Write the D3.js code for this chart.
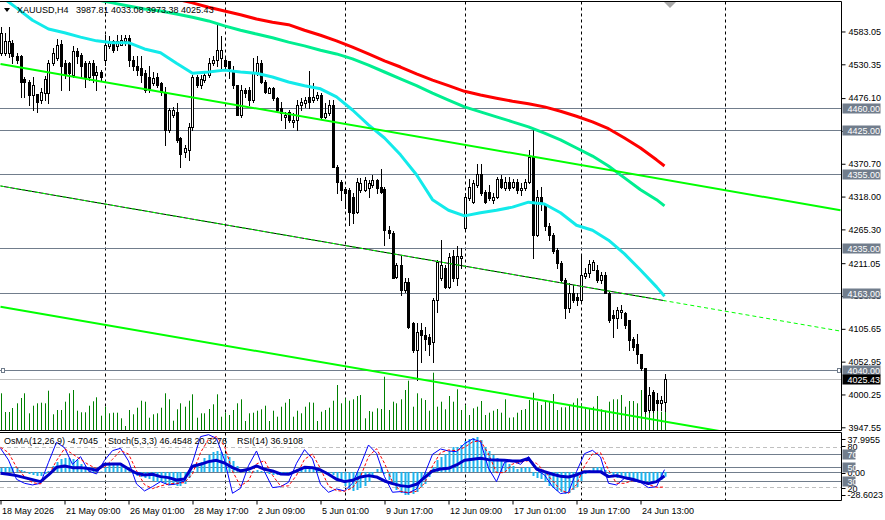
<!DOCTYPE html>
<html>
<head>
<meta charset="utf-8">
<script src="https://cdn.jsdelivr.net/npm/d3@7"></script>
<style>
  body { margin: 0; background: #ffffff; }
  svg text { font-family: "Liberation Sans", Arial, sans-serif; font-size: 9px; fill: #000000; }
</style>
</head>
<body>
<div id="chart"></div>
<script>
// Chart values
//
const symbolTitle = 'XAUUSD,H4';
const lastQuote   = '3987.81 4033.08 3973.38 4025.43';

// Candles [open, high, low, close], one per H4 bar
//
const candles = [
  [4548,4590,4545,4581],[4548,4581,4545,4568],[4548,4590,4542,4568],[4565,4569,4533,4543],[4544,4549,4532,4537],
  [4543,4545,4478,4502],[4507,4510,4478,4502],[4502,4505,4465,4481],[4481,4510,4457,4497],[4483,4483,4454,4470],
  [4473,4492,4468,4486],[4484,4512,4473,4507],[4484,4537,4468,4533],[4533,4557,4529,4549],[4540,4571,4537,4561],
  [4563,4569,4489,4528],[4532,4537,4508,4513],[4532,4534,4489,4516],[4513,4560,4510,4551],[4551,4557,4532,4543],
  [4545,4549,4508,4527],[4532,4535,4494,4510],[4510,4536,4505,4532],[4533,4537,4502,4513],[4513,4527,4489,4518],
  [4518,4521,4505,4510],[4537,4577,4529,4561],[4559,4576,4557,4567],[4567,4569,4550,4553],[4559,4577,4553,4567],
  [4561,4577,4561,4569],[4567,4577,4561,4572],[4572,4577,4527,4537],[4537,4543,4521,4527],[4527,4543,4513,4521],
  [4524,4543,4502,4513],[4516,4521,4486,4489],[4510,4527,4486,4492],[4500,4518,4497,4508],[4510,4516,4494,4497],
  [4500,4502,4481,4486],[4486,4494,4401,4425],[4425,4460,4422,4457],[4449,4462,4446,4457],[4454,4468,4406,4409],
  [4412,4414,4366,4387],[4390,4401,4382,4396],[4393,4436,4377,4430],[4430,4513,4425,4510],[4510,4513,4494,4497],
  [4497,4513,4492,4506],[4505,4519,4502,4513],[4513,4540,4510,4532],[4533,4543,4529,4538],[4537,4596,4527,4554],
  [4540,4575,4524,4554],[4538,4540,4521,4527],[4535,4535,4508,4524],[4521,4527,4492,4497],[4497,4497,4449,4449],
  [4449,4497,4446,4489],[4489,4492,4478,4485],[4489,4494,4465,4473],[4473,4540,4470,4516],[4516,4543,4513,4532],
  [4532,4537,4500,4502],[4502,4505,4484,4486],[4485,4494,4484,4492],[4492,4494,4473,4476],[4476,4478,4454,4457],
  [4460,4470,4441,4452],[4446,4454,4428,4449],[4454,4457,4438,4441],[4438,4452,4430,4441],[4441,4473,4425,4465],
  [4465,4476,4457,4470],[4468,4478,4462,4473],[4478,4519,4460,4470],[4473,4500,4470,4478],[4476,4486,4473,4481],
  [4481,4484,4444,4446],[4446,4468,4444,4452],[4452,4473,4449,4465],[4465,4473,4366,4366],[4366,4369,4324,4341],
  [4341,4345,4312,4329],[4330,4334,4300,4324],[4329,4332,4272,4294],[4318,4324,4276,4292],[4294,4348,4292,4342],
  [4329,4348,4326,4340],[4329,4350,4327,4345],[4331,4345,4318,4340],[4337,4353,4334,4345],[4345,4347,4323,4331],
  [4334,4363,4323,4326],[4330,4334,4240,4264],[4265,4270,4251,4259],[4259,4262,4187,4187],[4189,4211,4187,4208],
  [4208,4222,4160,4168],[4168,4187,4165,4181],[4181,4187,4107,4109],[4115,4117,4069,4072],[4072,4115,4024,4101],
  [4104,4115,4053,4096],[4096,4109,4072,4090],[4092,4098,4064,4082],[4085,4155,4053,4152],[4152,4216,4133,4213],
  [4187,4248,4184,4208],[4203,4208,4171,4173],[4173,4227,4171,4221],[4223,4232,4182,4187],[4187,4238,4176,4223],
  [4219,4235,4203,4223],[4268,4323,4264,4318],[4316,4347,4312,4334],[4310,4345,4307,4339],[4337,4371,4334,4355],
  [4355,4371,4321,4323],[4326,4329,4307,4310],[4326,4337,4312,4315],[4312,4323,4307,4318],[4318,4350,4316,4346],
  [4346,4353,4331,4334],[4331,4350,4329,4342],[4342,4350,4329,4331],[4334,4347,4332,4342],[4342,4347,4323,4329],
  [4329,4339,4321,4331],[4331,4347,4329,4342],[4342,4393,4340,4382],[4382,4428,4219,4256],[4256,4329,4254,4318],
  [4318,4334,4296,4307],[4305,4307,4264,4270],[4270,4275,4248,4256],[4256,4259,4227,4230],[4232,4235,4203,4211],
  [4211,4214,4181,4184],[4184,4187,4123,4139],[4139,4179,4133,4163],[4163,4176,4149,4152],[4157,4163,4144,4152],
  [4152,4224,4149,4192],[4190,4203,4187,4195],[4195,4216,4189,4209],[4200,4216,4200,4213],[4200,4208,4181,4184],
  [4184,4197,4179,4192],[4192,4197,4163,4163],[4163,4165,4117,4120],[4128,4136,4093,4123],[4123,4141,4107,4136],
  [4133,4144,4123,4136],[4131,4133,4107,4112],[4120,4120,4072,4088],[4090,4093,4072,4077],[4082,4098,4050,4066],
  [4066,4066,4040,4042],[4042,4042,3971,3973],[3975,4013,3972,3999],[4005,4007,3972,3975],[3991,4002,3975,3986],
  [3986,3997,3975,3991],[3987.81,4033.08,3973.38,4025.43]
];

// Tick volumes, one per bar
//
const volumes = [
  3670,1800,1800,2200,2670,3200,3670,1670,2430,2670,2730,2670,3930,1570,2000,2000,2830,3670,4000,1930,
  1770,1770,2430,2870,3270,1430,2330,1670,1730,1730,1170,400,2000,1570,2230,2930,2830,1230,1570,1670,
  2230,3670,3070,930,2070,2670,2330,2930,3570,1230,1670,1670,2100,2570,3570,1330,1730,1500,2000,2670,
  3070,900,1670,1730,1930,2070,2430,900,1930,1330,2330,2730,3100,1330,1930,1670,2330,2770,2730,900,
  1830,2000,2230,2930,4500,2670,3170,2930,3070,3400,3500,1170,1900,1830,2170,2100,5330,2000,2830,2670,
  3070,4000,4930,2330,3670,3170,3000,1930,5730,2330,2830,2070,3400,2830,4070,2000,2500,1500,2170,2330,
  2900,1500,1730,1930,2100,1730,3070,1230,1270,1730,2000,2100,3000,3730,2830,2500,2930,2830,3600,2000,
  2270,2270,2430,2730,3170,2670,2230,2170,2330,3400,2070,1930,2830,3070,3070,3500,2330,2900,2900,2670,
  4000,4170,3830,3270,2730,1830,2830
];

// Moving averages, read every fourth bar
//
const maBars = d3.range(0, 165, 4).concat([166]);
const maRed = [
  4688,4683,4679,4674,4669,4664,4659,4654,4650,4645,4640,4635,4629,4622,4616,4610,4603,4598,4594,4585,
  4577,4568,4558,4547,4536,4526,4515,4505,4496,4487,4481,4476,4471,4467,4462,4455,4447,4438,4427,4412,
  4396,4377,4367
];
const maGreen = [
  4682,4674,4664,4656,4648,4640,4634,4629,4624,4619,4616,4611,4606,4600,4592,4585,4579,4573,4566,4560,
  4553,4547,4539,4529,4518,4507,4496,4484,4473,4462,4454,4446,4438,4430,4420,4409,4396,4383,4367,4348,
  4329,4313,4303
];
const maCyan = [
  4640,4621,4601,4587,4581,4574,4568,4565,4565,4555,4549,4532,4516,4518,4521,4518,4516,4510,4502,4496,
  4491,4478,4457,4433,4412,4385,4353,4313,4296,4287,4292,4296,4301,4309,4306,4292,4272,4264,4248,4226,
  4200,4173,4158
];

// Trend channel anchors [bar, price]
//
const trendUpper  = [[0, 4531], [210, 4296]];
const trendMiddle = [[0, 4335], [210, 4102]];
const trendLower  = [[0, 4141], [210, 3908]];

// Price axis and horizontal levels
//
const priceTicks  = [4583.05, 4530.35, 4476.10, 4423.40, 4370.70, 4318.00, 4265.30, 4211.05, 4158.35, 4105.65, 4052.95, 4000.25, 3947.55];
const levelPrices = [4460, 4425, 4355, 4235, 4163, 4040];
const lastPrice   = 4025.43;

// Time axis
//
const timeBars   = [0, 16, 32, 48, 64, 80, 96, 112, 128, 144, 160];
const timeLabels = ['18 May 2026', '21 May 09:00', '26 May 01:00', '28 May 17:00', '2 Jun 09:00', '5 Jun 01:00',
                    '9 Jun 17:00', '12 Jun 09:00', '17 Jun 01:00', '19 Jun 17:00', '24 Jun 13:00'];
const weekBars   = [26, 56, 86, 116, 145, 181];

// Oscillator window
//
const osma = [
  4,5,5,5,4,2,1,-2,-3,-4,-4,-2,1,6,10,13,14,14,13,12,8,6,5,4,2,0.5,5,7,8,8,
  7,6,2,-2,-4,-5,-6,-7,-9,-10,-10,-12,-13,-13,-14,-14,-12,-6,1,6,10,14,17,20,21,20,18,15,11,6,
  3,2,1,1,2,1,-1,-2,-3,-3,-3,-3,-2,1,3,4,5,5,5,4,2,0.5,-1,-3,-7,-10,-14,-17,-19,-18,
  -16,-14,-10,-5,3,5,-2,-8,-13,-18,-21,-23,-23,-22,-20,-15,-12,-5,5,12,15,18,21,25,25,27,31,33,34,35,
  32,25,21,17,14,13,10,8,6,3,4,5,5,-4,-6,-7,-10,-14,-16,-19,-20,-22,-21,-18,-15,-9,-2,2,4,5,
  5,2,-2,-4,-6,-6,-7,-8,-8,-8,-9,-10,-11,-10,-9,-8,-4.7
];
const oscBars = d3.range(0, 167, 2);
const stochMain = [
  78.5,61,32,26,23.5,26,57.5,87.5,79.5,54.5,66,44.5,40,60.5,75,78.5,59.5,25,14.5,21,
  28.5,23.5,25,29.5,57.5,96,99,93.5,61,11,18.5,52.5,74.5,43.5,19.5,21,27.5,56,76.5,62.5,
  24.5,12.5,17.5,14.5,26,53.5,83.5,71,36,12.5,13.5,11.5,17.5,39.5,69.5,77.5,74.5,
  73.5,85.5,92.5,88.5,48.5,28.5,57.5,59.5,54.5,66,46,38.5,21,10.5,12.5,43.5,70.5,75.5,65.5,26,
  23.5,33.5,30,27.5,19.5,21,46.45
];
const stochSignal = [
  80,72,50,36,27,25,38,60,78,70,62,54,48,50,62,75,70,45,24,18,
  22,25,26,27,40,72,92,96,82,44,22,30,55,60,38,22,22,38,62,70,
  48,22,15,14,19,36,66,78,56,28,14,12,14,26,52,72,76,
  75,80,88,90,70,42,42,55,58,60,56,44,30,16,11,24,52,70,72,46,
  26,26,30,29,24,20,20.33
];
const rsi = [
  41,39.5,37.5,34.5,31.5,28.5,38.5,50,52,49.5,49.5,48,45.5,54.5,55,55,47.5,41,38.5,39.5,
  36,34.5,31,32.5,51.5,54.5,58.5,60.5,56.5,49.5,44.5,47,52,47,44.5,40,39.5,44.5,50,49.5,
  46,39.5,32,28.5,30.5,35.5,37.5,35.5,29.5,25.5,22.5,21,24.5,34.5,44.5,47.5,48.5,
  53.5,60.5,62,63.5,61.5,61,60.5,59.5,59.5,63.5,47.5,43.5,39.5,36.5,35.5,38.5,43.5,43.5,43.5,36,
  37.5,34.5,32,28.5,25.5,28.5,36.91
];
const oscLevels  = [80, 70, 50, 30, 20];
const osmaRange  = [-28.6023, 37.9955];
const oscLegend  = [['OsMA(12,26,9) -4.7045', 4], ['Stoch(5,3,3) 46.4548 20.3276', 108], ['RSI(14) 36.9108', 237]];

// Layout
//
var svg_width   = 885;
var svg_height  = 520;
var x_right     = 841.5;
var main_top    = 1.5;
var main_bot    = 430.5;
var ind_top     = 432.5;
var ind_bot     = 500.5;

var levelColor  = '#717d8c';

var xScale = d3.scaleLinear().domain([0, 166]).range([0.5, 664.5]);
var yScale = d3.scaleLinear().domain([3943.2, 4633.6]).range([430, 0]);
var oscY   = d3.scaleLinear().domain([0, 100]).range([500.6, 434]);
var osmaY  = d3.scaleLinear().domain(osmaRange).range([500.6, 434]);
var volY   = d3.scaleLinear().domain([0, 6000]).range([430, 370]);

let svg = d3.select('#chart').append('svg')
    .attr('width', svg_width)
    .attr('height', svg_height)
    .attr('viewBox', `0 0 ${svg_width} ${svg_height}`)
    .style('display', 'block');

let defs = svg.append('defs');
defs.append('clipPath').attr('id', 'clipMain')
    .append('rect').attr('x', 0).attr('y', main_top).attr('width', x_right).attr('height', main_bot - main_top);
defs.append('clipPath').attr('id', 'clipInd')
    .append('rect').attr('x', 0).attr('y', ind_top).attr('width', x_right).attr('height', ind_bot - ind_top);
defs.append('clipPath').attr('id', 'clipBars')
    .append('rect').attr('x', 0).attr('y', main_top).attr('width', xScale(166)).attr('height', main_bot - main_top);

let main = svg.append('g').attr('clip-path', 'url(#clipMain)');
let ind  = svg.append('g').attr('clip-path', 'url(#clipInd)');

// Week separators
//
[[main, main_top, main_bot], [ind, ind_top, ind_bot]].forEach(([g, y0, y1]) => {
    g.selectAll(null).data(weekBars).enter().append('line')
        .attr('x1', d => Math.round(xScale(d)) + 0.5)
        .attr('x2', d => Math.round(xScale(d)) + 0.5)
        .attr('y1', y0).attr('y2', y1)
        .attr('stroke', '#000').attr('stroke-width', 1)
        .attr('stroke-dasharray', '3,3');
});

// Horizontal price levels
//
main.selectAll('.level').data(levelPrices).enter().append('line')
    .attr('class', 'level')
    .attr('x1', 0).attr('x2', x_right)
    .attr('y1', d => Math.round(yScale(d)) + 0.5)
    .attr('y2', d => Math.round(yScale(d)) + 0.5)
    .attr('stroke', levelColor).attr('stroke-width', 1);

main.append('line')
    .attr('x1', 0).attr('x2', x_right)
    .attr('y1', Math.round(yScale(lastPrice)) + 0.5)
    .attr('y2', Math.round(yScale(lastPrice)) + 0.5)
    .attr('stroke', '#c0c0c0').attr('stroke-width', 1);

// end markers of the 4040 level
//
[1.5, 837.5].forEach(x0 => {
    main.append('rect')
        .attr('x', x0).attr('y', Math.round(yScale(4040)) - 1.5)
        .attr('width', 3).attr('height', 4)
        .attr('fill', '#fff').attr('stroke', levelColor);
});

// Volumes
//
main.selectAll('.vol').data(volumes).enter().append('line')
    .attr('class', 'vol')
    .attr('x1', (d, i) => Math.round(xScale(i)) + 0.5)
    .attr('x2', (d, i) => Math.round(xScale(i)) + 0.5)
    .attr('y1', volY(0))
    .attr('y2', d => volY(d))
    .attr('stroke', '#008000').attr('stroke-width', 1);

// Candles
//
let bars = main.selectAll('.candle').data(candles).enter().append('g').attr('class', 'candle');
bars.append('line')
    .attr('x1', (d, i) => Math.round(xScale(i)) + 0.5)
    .attr('x2', (d, i) => Math.round(xScale(i)) + 0.5)
    .attr('y1', d => Math.round(yScale(d[1])))
    .attr('y2', d => Math.round(yScale(d[2])) + 1)
    .attr('stroke', '#000');
bars.append('rect')
    .attr('x', (d, i) => Math.round(xScale(i)) - 0.5)
    .attr('y', d => Math.round(yScale(Math.max(d[0], d[3]))) + 0.5)
    .attr('width', 2)
    .attr('height', d => Math.max(0, Math.round(yScale(Math.min(d[0], d[3]))) - Math.round(yScale(Math.max(d[0], d[3])))))
    .attr('fill', d => d[3] >= d[0] ? '#fff' : '#000')
    .attr('stroke', '#000').attr('stroke-width', 1);

// Moving averages
//
let maLine = d3.line().x(d => xScale(d[0])).y(d => yScale(d[1]));
[[maRed, '#ff0000'], [maGreen, '#00ee90'], [maCyan, '#12eaea']].forEach(([vals, color]) => {
    main.append('path')
        .datum(maBars.map((b, k) => [b, vals[k]]))
        .attr('d', maLine)
        .attr('fill', 'none')
        .attr('stroke', color)
        .attr('stroke-width', 3)
        .attr('stroke-linejoin', 'round');
});

// Trend channel
//
main.append('path').datum(trendUpper).attr('d', maLine)
    .attr('fill', 'none').attr('stroke', '#00ff00').attr('stroke-width', 2);
main.append('path').datum(trendLower).attr('d', maLine)
    .attr('fill', 'none').attr('stroke', '#00ff00').attr('stroke-width', 2);
main.append('path').datum(trendMiddle).attr('d', maLine)
    .attr('clip-path', 'url(#clipBars)')
    .attr('fill', 'none').attr('stroke', '#000').attr('stroke-width', 1);
main.append('path').datum(trendMiddle).attr('d', maLine)
    .attr('fill', 'none').attr('stroke', '#00ff00').attr('stroke-width', 1)
    .attr('stroke-dasharray', '4,3');

// Chart shift marker
//
svg.append('path')
    .attr('d', 'M664,2 L676,2 L670,8 Z')
    .attr('fill', '#a8a8a8');

// Title
//
svg.append('path').attr('d', 'M4,8 L10,8 L7,12 Z').attr('fill', '#000');
svg.append('text').attr('x', 17).attr('y', 13).text(symbolTitle);
svg.append('text').attr('x', 76).attr('y', 13).text(lastQuote);

// Indicator window levels
//
ind.selectAll('.osc').data(oscLevels).enter().append('line')
    .attr('x1', 0).attr('x2', x_right)
    .attr('y1', d => Math.round(oscY(d)) + 0.5)
    .attr('y2', d => Math.round(oscY(d)) + 0.5)
    .attr('stroke', d => (d === 80 || d === 20) ? '#c0c0c0' : levelColor)
    .attr('stroke-dasharray', d => (d === 80 || d === 20) ? '4,3' : null);
ind.append('line')
    .attr('x1', 0).attr('x2', x_right)
    .attr('y1', Math.round(osmaY(0)) + 0.5).attr('y2', Math.round(osmaY(0)) + 0.5)
    .attr('stroke', levelColor);

// OsMA histogram
//
ind.selectAll('.osma').data(osma).enter().append('rect')
    .attr('x', (d, i) => Math.round(xScale(i)) - 0.5)
    .attr('width', 2)
    .attr('y', d => Math.min(osmaY(d), osmaY(0)))
    .attr('height', d => Math.abs(osmaY(d) - osmaY(0)))
    .attr('fill', '#1cb4ee');

// Stochastic and RSI
//
let oscLine = d3.line().x(d => xScale(d[0])).y(d => oscY(d[1]));
ind.append('path').datum(oscBars.map((b, k) => [b, stochMain[k]])).attr('d', oscLine)
    .attr('fill', 'none').attr('stroke', '#0000ff').attr('stroke-width', 1);
ind.append('path').datum(oscBars.map((b, k) => [b, stochSignal[k]])).attr('d', oscLine)
    .attr('fill', 'none').attr('stroke', '#ff0000').attr('stroke-width', 1).attr('stroke-dasharray', '3,2');
ind.append('path').datum(oscBars.map((b, k) => [b, rsi[k]])).attr('d', oscLine)
    .attr('fill', 'none').attr('stroke', '#0000c8').attr('stroke-width', 3).attr('stroke-linejoin', 'round');

oscLegend.forEach(([t, x]) => {
    svg.append('text').attr('x', x).attr('y', 444).text(t);
});

// Frames
//
let frame = svg.append('g').attr('stroke', '#000').attr('stroke-width', 1);
frame.append('line').attr('x1', 0).attr('x2', x_right).attr('y1', main_top).attr('y2', main_top);
frame.append('line').attr('x1', 0).attr('x2', x_right).attr('y1', main_bot).attr('y2', main_bot);
frame.append('line').attr('x1', 0).attr('x2', x_right).attr('y1', ind_top).attr('y2', ind_top);
frame.append('line').attr('x1', 0).attr('x2', x_right).attr('y1', ind_bot).attr('y2', ind_bot);
frame.append('line').attr('x1', x_right).attr('x2', x_right).attr('y1', main_top).attr('y2', main_bot);
frame.append('line').attr('x1', x_right).attr('x2', x_right).attr('y1', ind_top).attr('y2', ind_bot);

// Price axis
//
let yAxis = svg.append('g')
    .attr('transform', `translate(${x_right},0)`)
    .call(d3.axisRight(yScale).tickValues(priceTicks).tickSize(4).tickPadding(3).tickFormat(d3.format('.2f')));
yAxis.select('.domain').remove();
yAxis.selectAll('text').attr('font-size', null).attr('font-family', null);

// Level tags
//
function tag(y, label, bg, w) {
    svg.append('rect')
        .attr('x', x_right + 1).attr('y', Math.round(y) - 4.5)
        .attr('width', w).attr('height', 10)
        .attr('fill', bg);
    svg.append('text')
        .attr('x', x_right + 6).attr('y', Math.round(y) + 3.5)
        .style('fill', '#fff')
        .text(label);
}
levelPrices.forEach(p => tag(yScale(p), d3.format('.2f')(p), levelColor, 38));
tag(yScale(lastPrice), d3.format('.2f')(lastPrice), '#000', 38);

// Indicator axis
//
[[osmaY(osmaRange[1]) + 5, '37.9955'], [oscY(80) - 1, '80'], [osmaY(0) + 1, '0.00'], [oscY(20) + 1, '20'],
 [osmaY(osmaRange[0]) - 6, '-28.6023']].forEach(([y, t]) => {
    svg.append('line').attr('x1', x_right).attr('x2', x_right + 4)
        .attr('y1', Math.round(y) + 0.5).attr('y2', Math.round(y) + 0.5).attr('stroke', '#000');
    svg.append('text').attr('x', x_right + 6).attr('y', y + 3.5).text(t);
});
[70, 50, 30].forEach(v => tag(oscY(v), String(v), levelColor, 13));

// Time axis
//
let xAxis = svg.append('g')
    .attr('transform', `translate(0,${ind_bot})`)
    .call(d3.axisBottom(xScale).tickValues(timeBars).tickSize(4).tickPadding(3).tickFormat((d, i) => timeLabels[i]));
xAxis.select('.domain').remove();
xAxis.selectAll('text').attr('text-anchor', 'start').attr('x', 1).attr('font-size', null).attr('font-family', null);
</script>
</body>
</html>
